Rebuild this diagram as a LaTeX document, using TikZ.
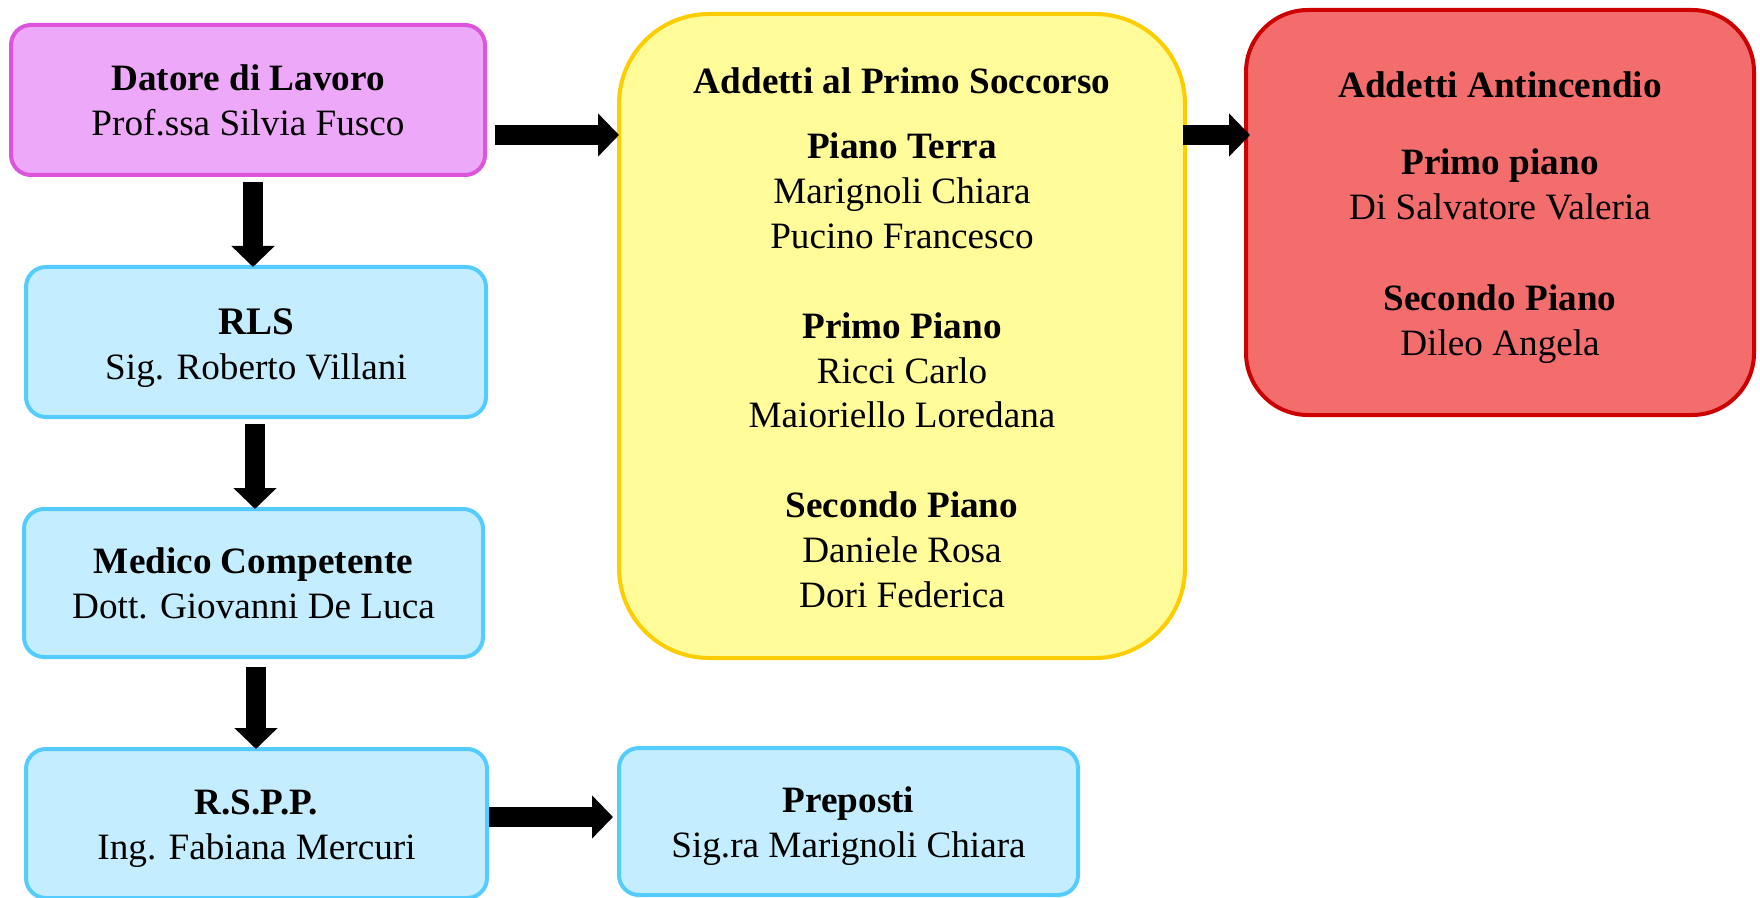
\documentclass[tikz,border=0pt]{standalone}
\usepackage{fontspec}
\setmainfont{Liberation Serif}
\usetikzlibrary{arrows.meta}
\definecolor{pinkfill}{HTML}{EEA8F9}
\definecolor{pinkline}{HTML}{DD55DD}
\definecolor{bluefill}{HTML}{C4EEFF}
\definecolor{blueline}{HTML}{55CCFF}
\definecolor{yellowfill}{HTML}{FFFC99}
\definecolor{yellowline}{HTML}{FFCC00}
\definecolor{redfill}{HTML}{F46D6D}
\definecolor{redline}{HTML}{CC0000}
\newcommand\tgap[1]{\rule{0pt}{#1}}
\begin{document}
\begin{tikzpicture}[x=0.5pt,y=-0.5pt,
  box/.style={draw, line width=2pt, rounded corners=10pt, align=center,
    inner sep=0pt, outer sep=0pt, font=\fontsize{18.6}{22.45}\selectfont},
  pinkbox/.style={box, fill=pinkfill, draw=pinkline},
  bluebox/.style={box, fill=bluefill, draw=blueline},
  yellowbox/.style={box, fill=yellowfill, draw=yellowline, rounded corners=45pt},
  redbox/.style={box, fill=redfill, draw=redline, rounded corners=31pt},
  blockarrow/.style={line width=10.25pt, draw=black, -{Triangle[width=21pt,length=10.5pt]}}
]
\useasboundingbox (0,0) rectangle (1760,898);

\node[pinkbox, minimum width=237pt, minimum height=75pt] (datore) at (248,100)
  {\tgap{13.6pt}\textbf{Datore di Lavoro}\\Prof.ssa Silvia Fusco};
\node[bluebox, minimum width=230pt, minimum height=75pt] (rls) at (256,342)
  {\tgap{19pt}{\fontsize{19.5}{22.45}\selectfont\textbf{RLS}}\\Sig. Roberto Villani};
\node[bluebox, minimum width=229.5pt, minimum height=74pt] (medico) at (253.5,583)
  {\textbf{Medico Competente}\\Dott. Giovanni De Luca};
\node[bluebox, minimum width=230.5pt, minimum height=74.5pt] (rspp) at (256.5,823.5)
  {\tgap{17.9pt}\textbf{R.S.P.P.}\\Ing. Fabiana Mercuri};
\node[bluebox, minimum width=229.5pt, minimum height=73.5pt] (preposti) at (848.5,821.5)
  {\tgap{17.9pt}\textbf{Preposti}\\Sig.ra Marignoli Chiara};
\node[yellowbox, minimum width=283pt, minimum height=322pt] (yellow) at (902,336)
  {\tgap{14.8pt}\textbf{Addetti al Primo Soccorso}\\[10pt]
   \textbf{Piano Terra}\\Marignoli Chiara\\Pucino Francesco\\[22.45pt]
   \textbf{Primo Piano}\\Ricci Carlo\\Maioriello Loredana\\[22.45pt]
   \textbf{Secondo Piano}\\Daniele Rosa\\Dori Federica};
\node[redbox, minimum width=254pt, minimum height=202.5pt] (red) at (1500,212.5)
  {\tgap{18pt}\textbf{Addetti Antincendio}\\[16pt]
   \textbf{Primo piano}\\Di Salvatore Valeria\\[23pt]
   \textbf{Secondo Piano}\\Dileo Angela};

\coordinate (rowA) at (0,135);
\coordinate (rowB) at (0,817);
\coordinate (colA) at (253,0);
\coordinate (colB) at (255,0);
\coordinate (colC) at (256,0);

\draw[blockarrow, shorten <=3.5pt] (datore.south -| colA) -- (rls.north -| colA);
\draw[blockarrow, shorten <=3.5pt] (rls.south -| colB) -- (medico.north -| colB);
\draw[blockarrow, shorten <=5pt] (medico.south -| colC) -- (rspp.north -| colC);
\draw[blockarrow, shorten <=5pt] (datore.east |- rowA) -- (yellow.west |- rowA);
\draw[blockarrow, shorten <=-1pt, shorten >=-2pt] (yellow.east |- rowA) -- (red.west |- rowA);
\draw[blockarrow, shorten <=1pt, shorten >=3pt] (rspp.east |- rowB) -- (preposti.west |- rowB);
\end{tikzpicture}
\end{document}
